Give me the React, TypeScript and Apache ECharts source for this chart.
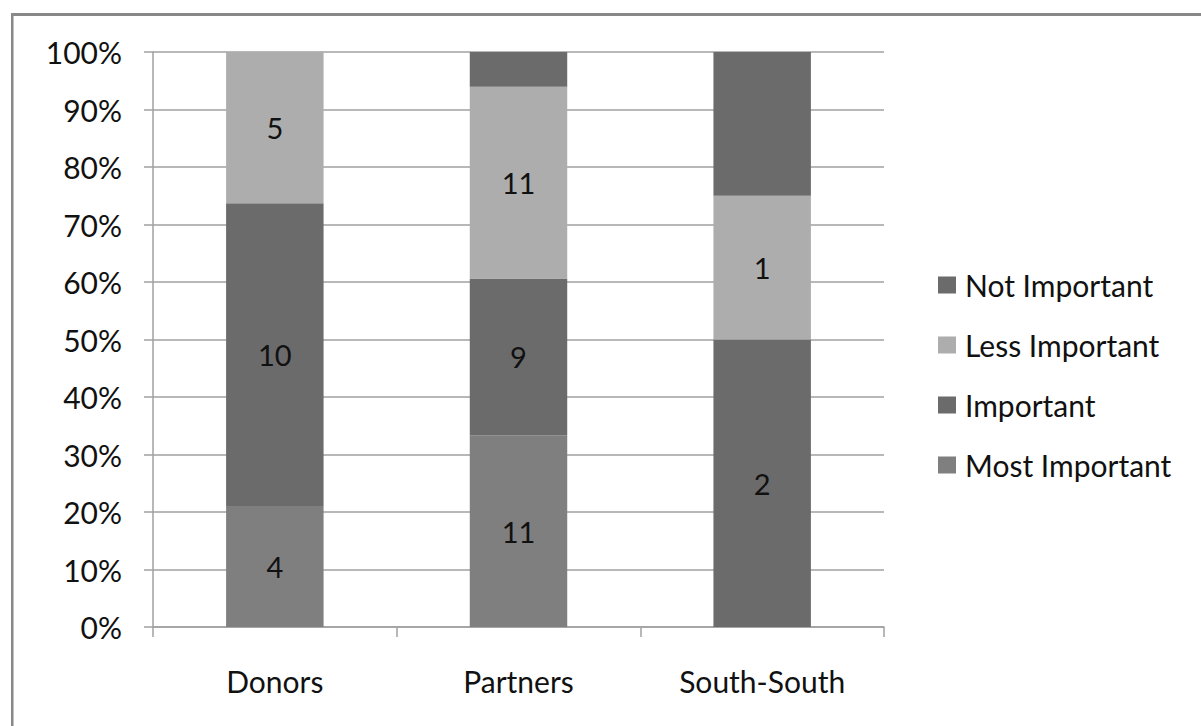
import React, { useEffect, useRef } from "react";
import * as echarts from "echarts";

const categories = ["Donors", "Partners", "South-South"];
const seriesNames = ["Most Important", "Important", "Less Important", "Not Important"];
const mostImportant = [4, 11, 0];
const important = [10, 9, 2];
const lessImportant = [5, 11, 1];
const notImportant = [0, 2, 1];
const yTickLabels = ["0%", "10%", "20%", "30%", "40%", "50%", "60%", "70%", "80%", "90%", "100%"];
const showLabels = [true, true, true, false];
const colors = ["#7f7f7f", "#6b6b6b", "#adadad", "#6b6b6b"];

const FONT = "Lato, 'Open Sans', sans-serif";
const FS = 30;

export default function App() {
  const ref = useRef<HTMLDivElement>(null);
  useEffect(() => {
    if (!ref.current) return;
    const chart = echarts.init(ref.current, null, { renderer: "svg" });
    const counts = [mostImportant, important, lessImportant, notImportant];
    const totals = categories.map((_, i) => counts.reduce((s, a) => s + a[i], 0));
    const series = counts.map((arr, si) => ({
      name: seriesNames[si],
      type: "bar",
      stack: "total",
      barWidth: "40%",
      itemStyle: { color: colors[si] },
      label: {
        show: showLabels[si],
        position: "inside",
        color: "#111",
        fontFamily: FONT,
        fontSize: 29,
        formatter: (p: any) => (arr[p.dataIndex] ? String(arr[p.dataIndex]) : ""),
      },
      data: arr.map((v, i) => (v / totals[i]) * 100),
    }));
    chart.setOption({
      animation: false,
      backgroundColor: "#fff",
      textStyle: { fontFamily: FONT },
      grid: { left: 153, top: 52, right: 317, bottom: 99, containLabel: false },
      graphic: [
        { type: "rect", shape: { x: 11, y: 13, width: 1190, height: 3 }, style: { fill: "#888888" } },
        { type: "rect", shape: { x: 11, y: 13, width: 2.5, height: 713 }, style: { fill: "#888888" } },
      ],
      legend: {
        orient: "vertical",
        left: 933,
        top: 265,
        itemWidth: 18,
        itemHeight: 17,
        itemGap: 30,
        icon: "rect",
        data: ["Not Important", "Less Important", "Important", "Most Important"],
        textStyle: { fontFamily: FONT, fontSize: FS, color: "#111", lineHeight: 30, padding: [0, 0, 0, 4] },
      },
      xAxis: {
        type: "category",
        data: categories,
        axisLine: { lineStyle: { color: "#a0a0a0", width: 1.5 } },
        axisTick: { show: true, length: 10, lineStyle: { color: "#a0a0a0", width: 1.5 } },
        axisLabel: { color: "#111", fontFamily: FONT, fontSize: FS, margin: 39 },
      },
      yAxis: {
        type: "value",
        min: 0,
        max: 100,
        interval: 10,
        axisLine: { show: true, lineStyle: { color: "#a0a0a0", width: 1.5 } },
        axisTick: { show: true, length: 9, lineStyle: { color: "#a0a0a0", width: 1.5 } },
        splitLine: { lineStyle: { color: "#a0a0a0", width: 1.5 } },
        axisLabel: {
          color: "#111",
          fontFamily: FONT,
          fontSize: FS,
          margin: 31,
          formatter: (v: number) => yTickLabels[Math.round(v / 10)],
        },
      },
      series,
    });
    return () => chart.dispose();
  }, []);
  return <div ref={ref} style={{ position: "fixed", left: 0, top: 0, width: 1201, height: 726 }} />;
}
